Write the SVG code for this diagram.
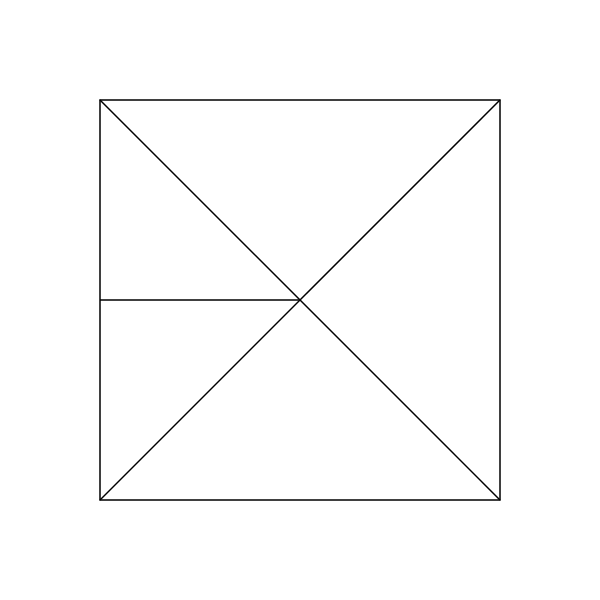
<svg xmlns="http://www.w3.org/2000/svg" width="600" height="600" viewBox="0 0 600 600">
<style>.s{fill:none;stroke:#000;stroke-width:1.5}</style>
<rect width="600" height="600" fill="#fff"/>
<g id="square"><rect class="s" x="100" y="100" width="400" height="400"/></g>
<g id="connectors">
<line class="s" x1="100" y1="100" x2="500" y2="500"/>
<line class="s" x1="500" y1="100" x2="100" y2="500"/>
<line class="s" x1="100" y1="300" x2="300" y2="300"/>
</g>
</svg>
